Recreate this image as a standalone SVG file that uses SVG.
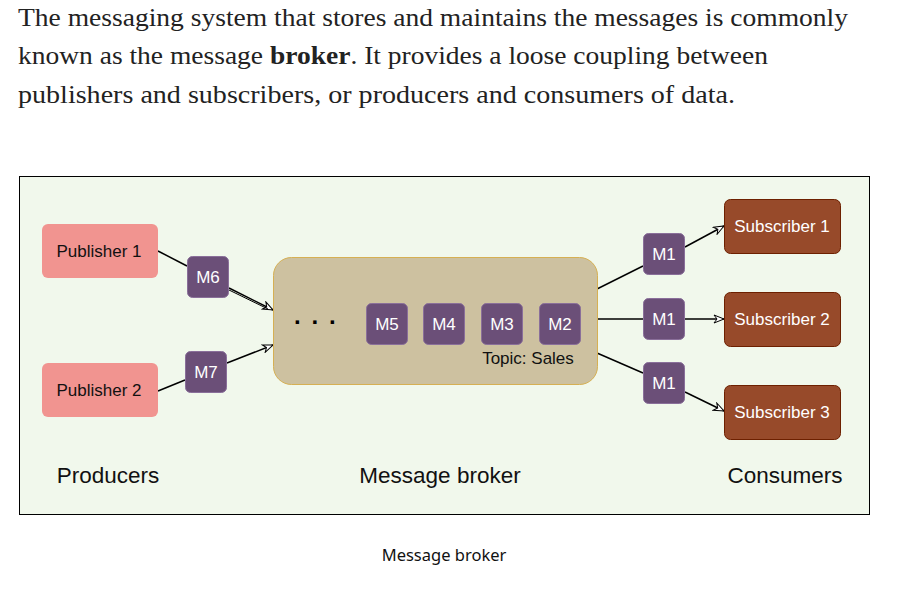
<svg xmlns="http://www.w3.org/2000/svg" width="902" height="593" viewBox="0 0 902 593">
<style>
.hdr{font-family:"Liberation Serif","Noto Serif",serif;font-size:25px;fill:#222;}
.lbl{font-family:"Liberation Sans",Arial,sans-serif;font-size:17px;text-anchor:middle;}
.big{font-family:"Liberation Sans",Arial,sans-serif;font-size:22.5px;text-anchor:middle;fill:#111;}
.pub{fill:#f19490;}
.msg{fill:#6b4f78;stroke:#8a6f9a;stroke-width:1;}
.sub{fill:#974a2a;stroke:#6d2000;stroke-width:1;}
.w{fill:#fff;}
.k{fill:#111;}
.ln{stroke:#000;stroke-width:1.5;fill:none;}
</style>
<defs>
<marker id="ar" viewBox="0 0 12 10" refX="11" refY="5" markerWidth="12" markerHeight="10" markerUnits="userSpaceOnUse" orient="auto">
<path d="M1,1 L11,5 L1,9 L4,5 Z" fill="#fff" stroke="#000" stroke-width="1"/>
</marker>
</defs>
<rect width="902" height="593" fill="#fff"/>
<text class="hdr" x="18" y="26" textLength="830" lengthAdjust="spacingAndGlyphs">The messaging system that stores and maintains the messages is commonly</text>
<text class="hdr" x="18" y="64" textLength="750" lengthAdjust="spacingAndGlyphs">known as the message <tspan font-weight="bold">broker</tspan>. It provides a loose coupling between</text>
<text class="hdr" x="18" y="103" textLength="717" lengthAdjust="spacingAndGlyphs">publishers and subscribers, or producers and consumers of data.</text>
<rect x="19.5" y="176.5" width="850" height="338" fill="#f1f8ec" stroke="#000" stroke-width="1"/>
<g id="connectors">
<line class="ln" x1="158" y1="251" x2="187" y2="266"/>
<path class="ln" d="M229,288 L273,310" marker-end="url(#ar)"/>
<path d="M229,290 L268,309" stroke="#000" stroke-width="1" fill="none"/>
<line class="ln" x1="158" y1="391" x2="185" y2="380"/>
<path class="ln" d="M227,363 L273,345" marker-end="url(#ar)"/>
<line class="ln" x1="597" y1="289" x2="643" y2="266"/>
<path class="ln" d="M685,247 L724,226" marker-end="url(#ar)"/>
<line class="ln" x1="597" y1="319" x2="643" y2="319"/>
<path class="ln" d="M685,319 L724,319" marker-end="url(#ar)"/>
<line class="ln" x1="597" y1="353" x2="643" y2="373"/>
<path class="ln" d="M685,392 L724,411" marker-end="url(#ar)"/>
</g>
<g id="publisher1"><rect class="pub" x="42" y="224" width="116" height="54" rx="6"/><text class="lbl k" x="99" y="257">Publisher 1</text></g>
<g id="publisher2"><rect class="pub" x="42" y="363" width="116" height="54" rx="6"/><text class="lbl k" x="99" y="396">Publisher 2</text></g>
<g id="m6"><rect class="msg" x="187.5" y="256.5" width="41" height="41" rx="5"/><text class="lbl w" x="208" y="283">M6</text></g>
<g id="m7"><rect class="msg" x="185.5" y="351.5" width="41" height="41" rx="5"/><text class="lbl w" x="206" y="378">M7</text></g>
<g id="broker">
<rect x="273.5" y="257.5" width="324" height="127" rx="18" fill="#cdc1a0" stroke="#d6b053" stroke-width="1"/>
<text x="294" y="324" font-family="Liberation Sans,Arial,sans-serif" font-size="24" font-weight="bold" letter-spacing="10.8" fill="#000">...</text>
<text class="lbl k" x="528" y="364" font-size="17.5">Topic: Sales</text>
</g>
<g id="m5"><rect class="msg" x="366.5" y="303.5" width="41" height="41" rx="5"/><text class="lbl w" x="387" y="330">M5</text></g>
<g id="m4"><rect class="msg" x="423.5" y="303.5" width="41" height="41" rx="5"/><text class="lbl w" x="444" y="330">M4</text></g>
<g id="m3"><rect class="msg" x="481.5" y="303.5" width="41" height="41" rx="5"/><text class="lbl w" x="502" y="330">M3</text></g>
<g id="m2"><rect class="msg" x="539.5" y="303.5" width="41" height="41" rx="5"/><text class="lbl w" x="560" y="330">M2</text></g>
<g id="m1a"><rect class="msg" x="643.5" y="233.5" width="41" height="41" rx="5"/><text class="lbl w" x="664" y="260">M1</text></g>
<g id="m1b"><rect class="msg" x="643.5" y="298.5" width="41" height="41" rx="5"/><text class="lbl w" x="664" y="325">M1</text></g>
<g id="m1c"><rect class="msg" x="643.5" y="362.5" width="41" height="41" rx="5"/><text class="lbl w" x="664" y="389">M1</text></g>
<g id="subscriber1"><rect class="sub" x="724.5" y="199.5" width="116" height="54" rx="6"/><text class="lbl w" x="782" y="232">Subscriber 1</text></g>
<g id="subscriber2"><rect class="sub" x="724.5" y="292.5" width="116" height="54" rx="6"/><text class="lbl w" x="782" y="325">Subscriber 2</text></g>
<g id="subscriber3"><rect class="sub" x="724.5" y="385.5" width="116" height="54" rx="6"/><text class="lbl w" x="782" y="418">Subscriber 3</text></g>
<text class="big" x="108" y="483">Producers</text>
<text class="big" x="440" y="483">Message broker</text>
<text class="big" x="785" y="483">Consumers</text>
<text x="444" y="561" font-family="'Noto Sans','Open Sans',sans-serif" font-size="16.5" text-anchor="middle" fill="#111">Message broker</text>
</svg>
